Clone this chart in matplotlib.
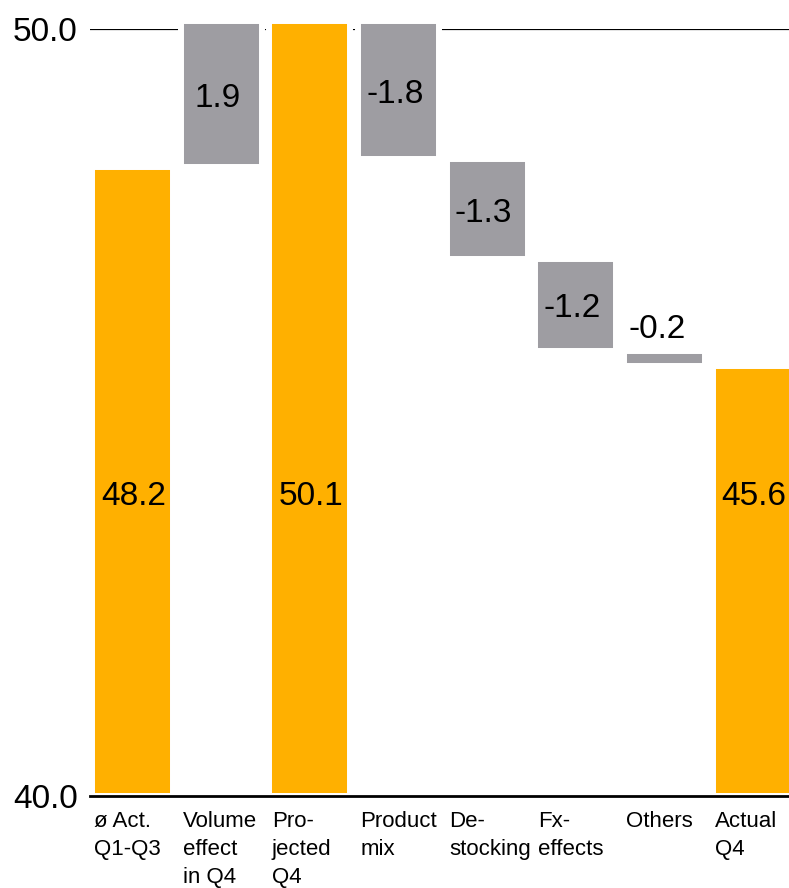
import matplotlib
matplotlib.use("Agg")
import matplotlib.pyplot as plt

# Waterfall data: Q4 bridge
categories = ["ø Act.\nQ1-Q3", "Volume\neffect\nin Q4", "Pro-\njected\nQ4", "Product\nmix",
              "De-\nstocking", "Fx-\neffects", "Others", "Actual\nQ4"]
start_value = 48.2
volume_effect = 1.9
projected_value = 50.1
reductions = [-1.8, -1.3, -1.2, -0.2]
actual_value = 45.6
y_ticks = [40.0, 50.0]

ORANGE = "#FFB000"
GRAY = "#9E9DA2"
FONT = ["Liberation Sans", "DejaVu Sans"]

plt.rcParams["font.family"] = FONT

base = y_ticks[0]

# Build bars: (bottom, top, colour, label, kind)
bars = []
bars.append((base, start_value, ORANGE, f"{start_value:.1f}", "total"))
bars.append((start_value, start_value + volume_effect, GRAY, f"{volume_effect:.1f}", "delta"))
bars.append((base, projected_value, ORANGE, f"{projected_value:.1f}", "total"))
level = projected_value
for r in reductions:
    bars.append((level + r, level, GRAY, f"{r:.1f}", "delta"))
    level += r
bars.append((base, actual_value, ORANGE, f"{actual_value:.1f}", "total"))

fig = plt.figure(figsize=(7.89, 8.88), dpi=100)
ax = fig.add_axes([90 / 789, 92 / 888, 1 - 90 / 789, (796 - 29) / 888])

ax.set_xlim(-0.479, 7.404)
ax.set_ylim(y_ticks[0], y_ticks[1])

# reference line at the top value, sitting behind the bars
ax.axhline(y_ticks[1], color="black", lw=1.6, zorder=0.5)

width = 0.914
for i, (b, t, c, lab, kind) in enumerate(bars):
    ax.bar(i, t - b, bottom=b, width=width, color=c, edgecolor="white",
           linewidth=4.3, zorder=1, clip_on=False)
    if kind == "total":
        ax.text(i + 0.01, 43.9, lab, ha="center", va="center", fontsize=24, zorder=3)
    elif t - b < 0.5:
        ax.text(i - 0.08, t + 0.08, lab, ha="center", va="bottom", fontsize=24, zorder=3)
    else:
        ax.text(i - 0.04, (b + t) / 2 - 0.05, lab, ha="center", va="center",
                fontsize=24, zorder=3)

# category labels under each bar, left aligned to the bar edge
for i, cat in enumerate(categories):
    ax.annotate(cat, xy=(i - 0.43, base), xycoords="data",
                xytext=(0, -11), textcoords="offset points",
                ha="left", va="top", fontsize=16, linespacing=1.42,
                annotation_clip=False)

for side in ("left", "right", "top"):
    ax.spines[side].set_visible(False)
ax.spines["bottom"].set_linewidth(2.0)
ax.spines["bottom"].set_zorder(3)

ax.set_xticks([])
ax.set_yticks(y_ticks)
ax.set_yticklabels([f"{v:.1f}" for v in y_ticks], fontsize=24)
ax.tick_params(axis="y", length=0, pad=9)

fig.savefig("out.png", dpi=100)
